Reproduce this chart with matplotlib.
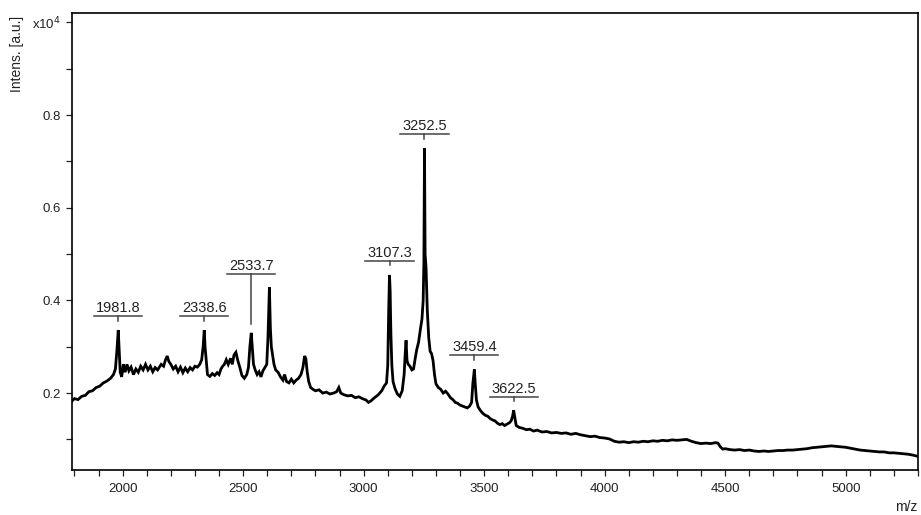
import numpy as np
import matplotlib.pyplot as plt
from matplotlib.ticker import MultipleLocator, FixedLocator, FixedFormatter

plt.rcParams['font.family'] = ['Liberation Sans', 'DejaVu Sans']

# espectro MALDI (m/z, intensidad en unidades de 1e4)
mz = [1790, 1800, 1815, 1830, 1845, 1860, 1875, 1890, 1905, 1920, 1935, 1950, 1962, 1970, 1976,
      1981.8, 1985, 1990, 1996, 2003, 2010, 2018, 2026, 2035, 2045, 2055, 2065, 2075, 2085, 2095,
      2105, 2115, 2125, 2135, 2145, 2160, 2170, 2178, 2185, 2192, 2200, 2210, 2220, 2230, 2240,
      2250, 2260, 2270, 2280, 2290, 2300, 2310, 2320, 2328, 2334, 2338.6, 2342, 2347, 2352, 2362,
      2372, 2382, 2392, 2400, 2408, 2415, 2422, 2430, 2438, 2448, 2455, 2462, 2470, 2478, 2486,
      2495, 2505, 2515, 2522, 2528, 2533.7, 2538, 2543, 2550, 2558, 2566, 2574, 2582, 2590, 2598,
      2603, 2609, 2613, 2617, 2622, 2628, 2635, 2645, 2655, 2665, 2672, 2680, 2690, 2700, 2710,
      2720, 2730, 2740, 2748, 2755, 2760, 2766, 2772, 2780, 2790, 2800, 2815, 2830, 2845, 2860,
      2875, 2888, 2897, 2905, 2920, 2935, 2950, 2965, 2980, 2995, 3010, 3020, 3030, 3045, 3060,
      3075, 3085, 3095, 3100, 3104, 3107.3, 3110, 3113, 3117, 3122, 3130, 3140, 3150, 3160, 3168,
      3173, 3176, 3180, 3185, 3192, 3200, 3207, 3214, 3220, 3228, 3235, 3242, 3247, 3250, 3252.5,
      3255, 3259, 3264, 3270, 3276, 3282, 3288, 3294, 3300, 3310, 3320, 3330, 3340, 3350, 3360,
      3370, 3380, 3390, 3400, 3410, 3420, 3430, 3440, 3448, 3453, 3459.4, 3463, 3468, 3475, 3485,
      3495, 3505, 3515, 3525, 3535, 3545, 3555, 3565, 3575, 3585, 3595, 3605, 3612, 3618, 3622.5,
      3627, 3633, 3645, 3660, 3675, 3690, 3705, 3720, 3740, 3760, 3780, 3800, 3820, 3840, 3860,
      3880, 3900, 3920, 3940, 3960, 3980, 4000, 4020, 4040, 4060, 4080, 4100, 4120, 4140, 4160,
      4180, 4200, 4220, 4240, 4260, 4280, 4300, 4320, 4340, 4360, 4380, 4400, 4420, 4440, 4460,
      4470, 4480, 4490, 4500, 4520, 4540, 4560, 4580, 4600, 4620, 4640, 4660, 4680, 4700, 4720,
      4740, 4760, 4780, 4800, 4820, 4840, 4860, 4880, 4900, 4920, 4940, 4960, 4980, 5000, 5020,
      5040, 5060, 5080, 5100, 5120, 5140, 5160, 5180, 5200, 5220, 5240, 5260, 5280, 5295]
intens = [0.183, 0.188, 0.186, 0.193, 0.195, 0.203, 0.205, 0.212, 0.215, 0.222, 0.226, 0.232, 0.240, 0.252, 0.290,
          0.336, 0.300, 0.245, 0.235, 0.262, 0.245, 0.262, 0.248, 0.256, 0.240, 0.252, 0.245, 0.258, 0.250, 0.262,
          0.250, 0.258, 0.246, 0.255, 0.250, 0.262, 0.258, 0.272, 0.280, 0.268, 0.262, 0.252, 0.258, 0.246, 0.256,
          0.244, 0.254, 0.246, 0.255, 0.250, 0.258, 0.256, 0.262, 0.272, 0.300, 0.336, 0.300, 0.270, 0.240, 0.236,
          0.242, 0.238, 0.244, 0.240, 0.252, 0.258, 0.262, 0.272, 0.262, 0.275, 0.262, 0.282, 0.288, 0.270, 0.256,
          0.238, 0.232, 0.240, 0.255, 0.300, 0.330, 0.300, 0.262, 0.250, 0.240, 0.246, 0.235, 0.248, 0.255, 0.262,
          0.320, 0.428, 0.340, 0.300, 0.282, 0.262, 0.250, 0.245, 0.235, 0.228, 0.240, 0.225, 0.222, 0.230, 0.222,
          0.228, 0.232, 0.240, 0.255, 0.280, 0.275, 0.245, 0.225, 0.212, 0.208, 0.205, 0.207, 0.200, 0.202, 0.198,
          0.200, 0.203, 0.212, 0.200, 0.196, 0.194, 0.195, 0.190, 0.192, 0.188, 0.185, 0.180, 0.183, 0.190, 0.196,
          0.205, 0.215, 0.222, 0.260, 0.380, 0.455, 0.420, 0.330, 0.260, 0.225, 0.210, 0.198, 0.193, 0.205, 0.240,
          0.290, 0.314, 0.270, 0.262, 0.258, 0.250, 0.252, 0.275, 0.293, 0.310, 0.336, 0.360, 0.400, 0.484, 0.728,
          0.500, 0.470, 0.380, 0.320, 0.290, 0.285, 0.270, 0.240, 0.220, 0.212, 0.208, 0.200, 0.204, 0.198, 0.190,
          0.186, 0.180, 0.178, 0.174, 0.172, 0.170, 0.168, 0.172, 0.180, 0.220, 0.251, 0.220, 0.185, 0.170, 0.162,
          0.156, 0.152, 0.150, 0.145, 0.142, 0.140, 0.135, 0.132, 0.134, 0.130, 0.133, 0.136, 0.140, 0.150, 0.163,
          0.148, 0.130, 0.126, 0.124, 0.121, 0.122, 0.118, 0.120, 0.116, 0.117, 0.114, 0.115, 0.113, 0.114, 0.111,
          0.113, 0.110, 0.108, 0.106, 0.107, 0.104, 0.103, 0.101, 0.096, 0.094, 0.095, 0.093, 0.095, 0.094, 0.096,
          0.095, 0.097, 0.096, 0.098, 0.097, 0.099, 0.098, 0.099, 0.100, 0.096, 0.093, 0.091, 0.092, 0.091, 0.093,
          0.092, 0.084, 0.079, 0.080, 0.078, 0.077, 0.078, 0.076, 0.077, 0.075, 0.074, 0.075, 0.074, 0.075, 0.076,
          0.076, 0.077, 0.077, 0.078, 0.079, 0.080, 0.082, 0.083, 0.084, 0.085, 0.086, 0.085, 0.084, 0.083, 0.081,
          0.079, 0.077, 0.076, 0.075, 0.074, 0.073, 0.073, 0.071, 0.071, 0.070, 0.069, 0.068, 0.066, 0.064]

# picos etiquetados: m/z, altura de la etiqueta sobre el pico y largo del trazo (en puntos)
picos = [1981.8, 2338.6, 2533.7, 3107.3, 3252.5, 3459.4, 3622.5]
elevacion = [10, 10, 42.5, 10, 10.5, 10.5, 9.5]
trazo = [3.5, 3.5, 36, 3, 3.5, 3.5, 3]

y_ticks = [0.2, 0.4, 0.6, 0.8, 1.0]
y_labels = ['0.2', '0.4', '0.6', '0.8', 'x10$^4$']

fig = plt.figure(figsize=(9.21, 5.15), dpi=100)
ax = fig.add_axes([0.0782, 0.0883, 0.9185, 0.887])

ax.plot(mz, intens, color='black', lw=2.0, solid_joinstyle='miter')

ax.set_xlim(1790, 5300)
ax.set_ylim(0.035, 1.021)

ax.xaxis.set_major_locator(MultipleLocator(500))
ax.xaxis.set_minor_locator(MultipleLocator(100))
ax.yaxis.set_major_locator(FixedLocator(y_ticks))
ax.yaxis.set_major_formatter(FixedFormatter(y_labels))
ax.yaxis.set_minor_locator(MultipleLocator(0.1))
ax.tick_params(which='both', direction='out', length=4, width=0.9, labelsize=9.5,
               color='#222222', labelcolor='#222222')
ax.tick_params(axis='x', pad=5.5)
ax.tick_params(axis='y', pad=4)
for s in ax.spines.values():
    s.set_linewidth(1.2)

# conversion de puntos a unidades de intensidad
alto_pt = ax.get_position().height * fig.get_figheight() * 72
u_pt = (ax.get_ylim()[1] - ax.get_ylim()[0]) / alto_pt

for p, e, t in zip(picos, elevacion, trazo):
    y = intens[mz.index(p)]
    yl = y + e * u_pt
    ax.plot([p - 100, p + 100], [yl, yl], color='#444444', lw=1.1)
    ax.plot([p, p], [yl, yl - t * u_pt], color='#444444', lw=1.1)
    ax.text(p, yl + 2.8 * u_pt, f'{p:.1f}', ha='center', va='baseline', fontsize=10.5, color='#222222')

fig.text(0.019, 0.895, 'Intens. [a.u.]', rotation=90, ha='center', va='center', fontsize=10, color='#222222')
fig.text(0.996, 0.007, 'm/z', ha='right', va='baseline', fontsize=10, color='#222222')

fig.savefig('out.png', dpi=100)
